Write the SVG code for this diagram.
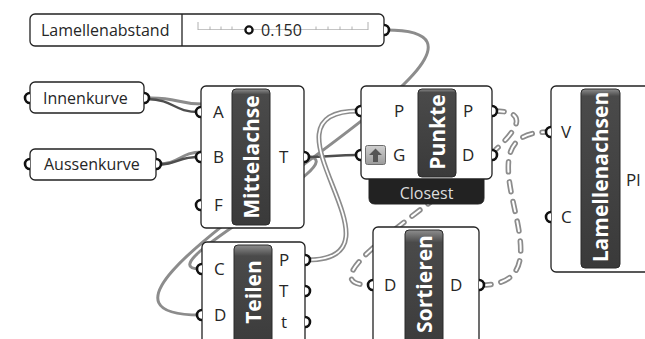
<svg xmlns="http://www.w3.org/2000/svg" width="645" height="339" viewBox="0 0 645 339">
  <defs>
    <linearGradient id="bar" x1="0" y1="0" x2="0" y2="1">
      <stop offset="0" stop-color="#8e8e8e"/>
      <stop offset="0.04" stop-color="#4a4a4a"/>
      <stop offset="1" stop-color="#3a3a3a"/>
    </linearGradient>
    <linearGradient id="barshort" x1="0" y1="0" x2="0" y2="1">
      <stop offset="0" stop-color="#8e8e8e"/>
      <stop offset="0.1" stop-color="#4a4a4a"/>
      <stop offset="1" stop-color="#3a3a3a"/>
    </linearGradient>
    <linearGradient id="tog" x1="0" y1="0" x2="0" y2="1">
      <stop offset="0" stop-color="#d0d0d0"/>
      <stop offset="1" stop-color="#9a9a9a"/>
    </linearGradient>
  </defs>
  <style>
    .box { fill: #ffffff; stroke: #222; stroke-width: 1.3; }
    .bar { fill: url(#bar); stroke: #2a2a2a; stroke-width: 1; }
    .barS { fill: url(#barshort); stroke: #2a2a2a; stroke-width: 1; }
    .port { fill: #ffffff; stroke: #111; stroke-width: 2.6; }
    .lbl { font-family: "Open Sans", "Noto Sans", sans-serif; font-size: 16px; fill: #262626; }
    .plbl { font-family: "Open Sans", "Noto Sans", sans-serif; font-size: 17px; fill: #262626; }
    .title { font-family: "Open Sans", "Noto Sans", sans-serif; font-size: 21px; font-weight: 700; fill: #ffffff; text-anchor: middle; }
    .wire { fill: none; stroke: #8c8c8c; stroke-width: 3; }
    .wdark { fill: none; stroke: #4e4e4e; stroke-width: 2.4; }
    .dblo { fill: none; stroke: #8c8c8c; stroke-width: 5; }
    .dbli { fill: none; stroke: #ffffff; stroke-width: 1.8; }
    .dasho { fill: none; stroke: #8c8c8c; stroke-width: 5.5; stroke-dasharray: 10 10; stroke-linecap: round; }
    .dashi { fill: none; stroke: #ffffff; stroke-width: 2; stroke-dasharray: 10 10; stroke-linecap: round; }
    .tick { stroke: #b0b0b0; stroke-width: 1; }
  </style>

  <g id="connectors">
    <path class="wire" d="M386,30 C586,30 0,315 200,315"/>
    <path class="wire" d="M306,157 C366,157 140,269 200,269"/>
    <path class="wdark" d="M306,157 C330,157 334,155 358,155"/>
    <path class="dblo" d="M307,260 C417,260 248,111 358,111"/>
    <path class="dbli" d="M307,260 C417,260 248,111 358,111"/>
    <path class="dasho" d="M494,111 C604,111 270,285 370,285"/>
    <path class="dashi" d="M494,111 C604,111 270,285 370,285"/>
    <path class="dasho" d="M481,285 C581,285 448,132 548,132"/>
    <path class="dashi" d="M481,285 C581,285 448,132 548,132"/>
    <path class="wire" d="M147,98 C178,97 176,104 202,104"/>
    <path class="wdark" d="M147,99 C176,100 172,112 200,112"/>
    <path class="wire" d="M158,164 C180,164 180,152 202,152"/>
    <path class="wdark" d="M158,165 C182,163 176,157 200,157"/>
  </g>

  <g id="slider">
    <rect class="box" x="30" y="14" width="354" height="32" rx="5"/>
    <line x1="182" y1="14" x2="182" y2="46" stroke="#222" stroke-width="1.3"/>
    <text class="lbl" x="41" y="36">Lamellenabstand</text>
    <line x1="198" y1="29.5" x2="368" y2="29.5" stroke="#c4c4c4" stroke-width="1"/>
    <line class="tick" x1="198" y1="22" x2="198" y2="30"/>
    <line class="tick" x1="210" y1="26.5" x2="210" y2="30"/>
    <line class="tick" x1="221" y1="26.5" x2="221" y2="30"/>
    <line class="tick" x1="232" y1="26.5" x2="232" y2="30"/>
    <line class="tick" x1="316" y1="26.5" x2="316" y2="30"/>
    <line class="tick" x1="328" y1="26.5" x2="328" y2="30"/>
    <line class="tick" x1="340" y1="26.5" x2="340" y2="30"/>
    <line class="tick" x1="352" y1="26.5" x2="352" y2="30"/>
    <line class="tick" x1="368" y1="22" x2="368" y2="30"/>
    <circle cx="249" cy="30" r="3.6" fill="#fff" stroke="#111" stroke-width="2.3"/>
    <text class="lbl" x="261" y="36">0.150</text>
    <path class="port" d="M384,25 A5,5 0 0 1 384,35"/>
  </g>

  <g id="innenkurve">
    <rect class="box" x="30" y="82" width="114" height="31" rx="5"/>
    <text class="lbl" x="43" y="103.5">Innenkurve</text>
    <path class="port" d="M30,93 A5,5 0 0 0 30,103"/>
    <path class="port" d="M144,93 A5,5 0 0 1 144,103"/>
  </g>

  <g id="aussenkurve">
    <rect class="box" x="30" y="149" width="126" height="31" rx="5"/>
    <text class="lbl" x="44" y="170">Aussenkurve</text>
    <path class="port" d="M30,159 A5,5 0 0 0 30,169"/>
    <path class="port" d="M156,159 A5,5 0 0 1 156,169"/>
  </g>

  <g id="mittelachse">
    <rect class="box" x="201" y="86" width="103" height="142" rx="5"/>
    <rect class="bar" x="232" y="89" width="38" height="136" rx="4"/>
    <text class="title" transform="translate(258.5,157) rotate(-90)">Mittelachse</text>
    <text class="plbl" x="213" y="118">A</text>
    <text class="plbl" x="213" y="163">B</text>
    <text class="plbl" x="214" y="211">F</text>
    <text class="plbl" x="279" y="163">T</text>
    <path class="port" d="M201,107 A5,5 0 0 0 201,117"/>
    <path class="port" d="M201,152 A5,5 0 0 0 201,162"/>
    <path class="port" d="M201,200 A5,5 0 0 0 201,210"/>
    <path class="port" d="M304,152 A5,5 0 0 1 304,162"/>
  </g>

  <g id="punkte">
    <path d="M369,176 H484 V198 Q484,204 478,204 H375 Q369,204 369,198 Z" fill="#222" stroke="#222" stroke-width="1"/>
    <text x="426.5" y="199" text-anchor="middle" font-family="Open Sans, Noto Sans, sans-serif" font-size="16" fill="#dcdcdc">Closest</text>
    <rect class="box" x="361" y="86" width="131" height="93" rx="5"/>
    <rect class="bar" x="418" y="89" width="38" height="88" rx="4"/>
    <text class="title" transform="translate(444.5,132) rotate(-90)">Punkte</text>
    <text class="plbl" x="394" y="117">P</text>
    <text class="plbl" x="393" y="161">G</text>
    <text class="plbl" x="463" y="117">P</text>
    <text class="plbl" x="462" y="161">D</text>
    <rect x="365.5" y="145.5" width="20" height="19" rx="2" fill="url(#tog)" stroke="#6e6e6e" stroke-width="1"/>
    <path d="M375.5,148.5 L382,155 H378 V162 H373 V155 H369 Z" fill="#555"/>
    <path class="port" d="M361,106 A5,5 0 0 0 361,116"/>
    <path class="port" d="M361,150 A5,5 0 0 0 361,160"/>
    <path class="port" d="M492,106 A5,5 0 0 1 492,116"/>
    <path class="port" d="M492,150 A5,5 0 0 1 492,160"/>
  </g>

  <g id="lamellenachsen">
    <rect class="box" x="551" y="86" width="110" height="186" rx="5"/>
    <rect class="bar" x="581" y="89" width="39" height="179" rx="4"/>
    <text class="title" transform="translate(608,177) rotate(-90)">Lamellenachsen</text>
    <text class="plbl" x="561" y="138">V</text>
    <text class="plbl" x="561" y="223">C</text>
    <text class="plbl" x="626" y="186">Pl</text>
    <path class="port" d="M551,127 A5,5 0 0 0 551,137"/>
    <path class="port" d="M551,212 A5,5 0 0 0 551,222"/>
  </g>

  <g id="teilen">
    <rect class="box" x="202" y="242" width="103" height="120" rx="5"/>
    <rect class="barS" x="234" y="245" width="38" height="110" rx="4"/>
    <text class="title" transform="translate(260.5,292) rotate(-90)">Teilen</text>
    <text class="plbl" x="214" y="275">C</text>
    <text class="plbl" x="214" y="321">D</text>
    <text class="plbl" x="279" y="266">P</text>
    <text class="plbl" x="279" y="297">T</text>
    <text class="plbl" x="281" y="328">t</text>
    <path class="port" d="M202,264 A5,5 0 0 0 202,274"/>
    <path class="port" d="M202,310 A5,5 0 0 0 202,320"/>
    <path class="port" d="M305,255 A5,5 0 0 1 305,265"/>
    <path class="port" d="M305,286 A5,5 0 0 1 305,296"/>
    <path class="port" d="M305,317 A5,5 0 0 1 305,327"/>
  </g>

  <g id="sortieren">
    <rect class="box" x="373" y="227" width="106" height="135" rx="5"/>
    <rect class="barS" x="405" y="230" width="38" height="125" rx="4"/>
    <text class="title" transform="translate(431.5,284) rotate(-90)">Sortieren</text>
    <text class="plbl" x="384" y="291">D</text>
    <text class="plbl" x="450" y="291">D</text>
    <path class="port" d="M373,280 A5,5 0 0 0 373,290"/>
    <path class="port" d="M479,280 A5,5 0 0 1 479,290"/>
  </g>
</svg>
